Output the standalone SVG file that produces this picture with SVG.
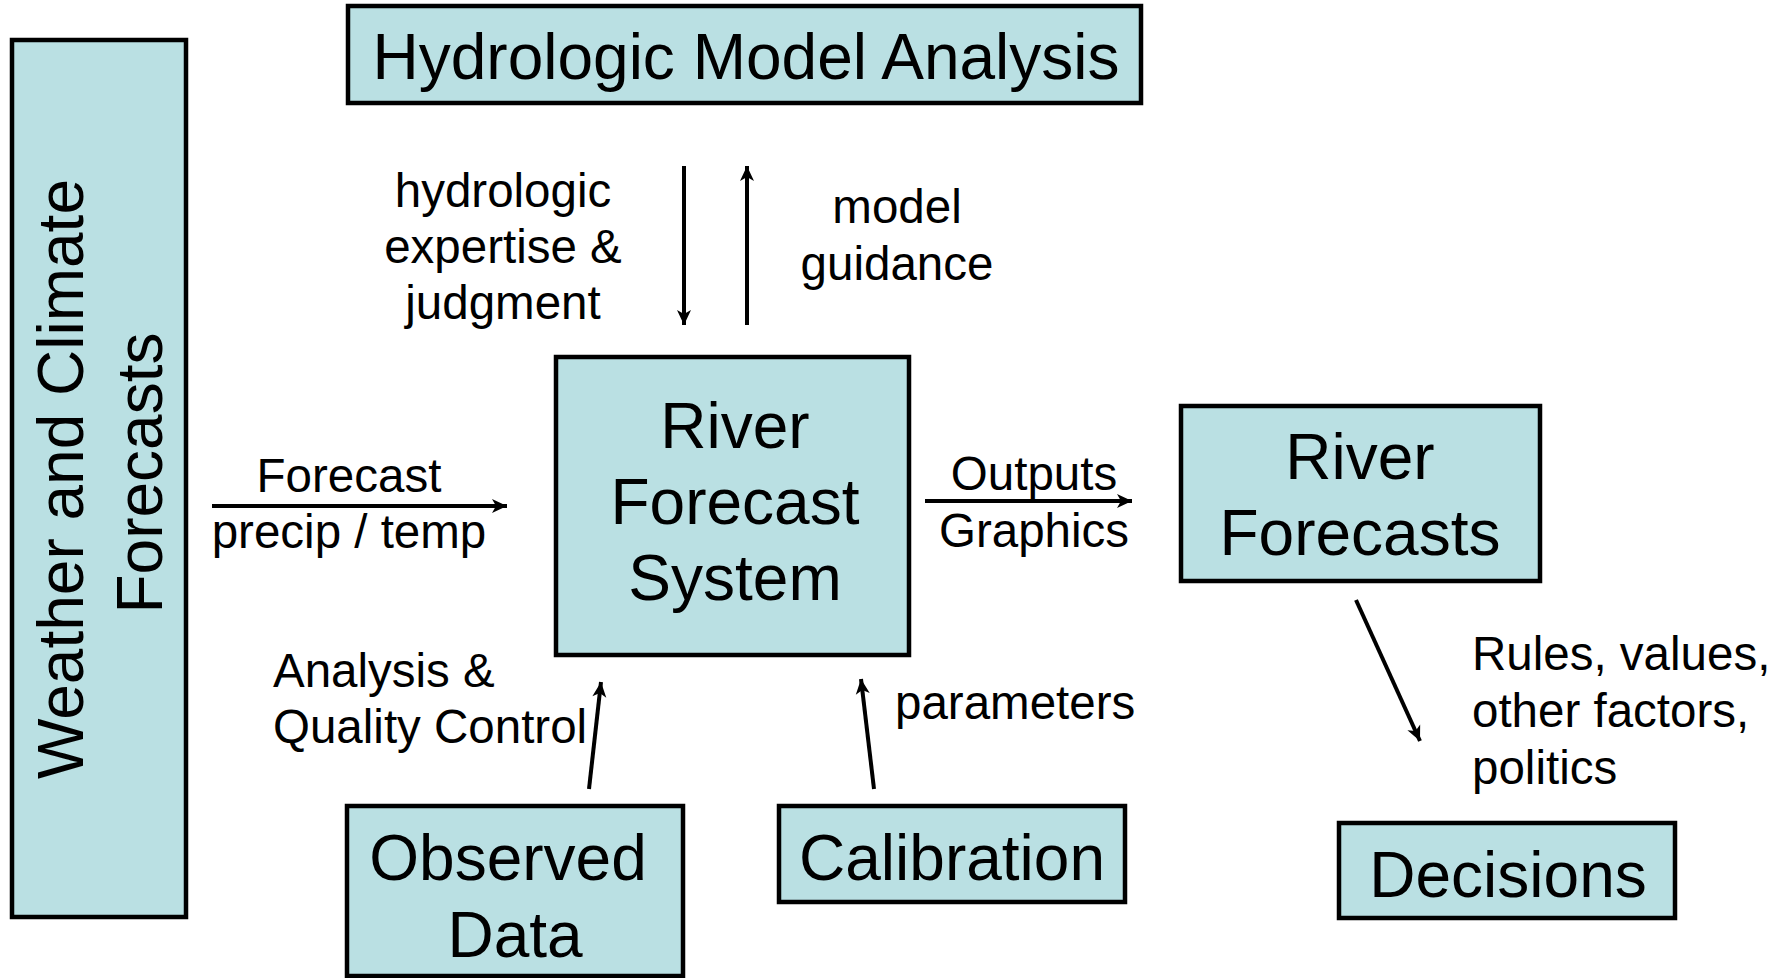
<svg xmlns="http://www.w3.org/2000/svg" width="1775" height="978" viewBox="0 0 1775 978">
<style>
.box{fill:#BAE0E3;stroke:#000;stroke-width:4.5}
.big{font-family:"Liberation Sans",Arial,sans-serif;font-size:64px;fill:#000;text-anchor:middle}
.lbl{font-family:"Liberation Sans",Arial,sans-serif;font-size:47.5px;fill:#000}
.mid{text-anchor:middle}
.con{stroke:#000;stroke-width:4;fill:none;marker-end:url(#ah)}
</style>
<defs>
<marker id="ah" viewBox="0 0 20 20" refX="18" refY="10" markerWidth="20" markerHeight="20" markerUnits="userSpaceOnUse" orient="auto">
<path d="M3,3 L18,10 L3,17 L7,10 z" fill="#000"/>
</marker>
</defs>
<rect width="1775" height="978" fill="#fff"/>
<g id="weather">
<rect class="box" x="12" y="40" width="174" height="877"/>
<text class="big" transform="translate(83,479) rotate(-90)" x="0" y="0">Weather and Climate</text>
<text class="big" transform="translate(162,473) rotate(-90)" x="0" y="0">Forecasts</text>
</g>
<g id="hydro">
<rect class="box" x="348" y="6" width="793" height="97"/>
<text class="big" x="746" y="79">Hydrologic Model Analysis</text>
</g>
<g id="rfs">
<rect class="box" x="556" y="357" width="353" height="298"/>
<text class="big" x="735" y="448">River</text>
<text class="big" x="735" y="524">Forecast</text>
<text class="big" x="735" y="600">System</text>
</g>
<g id="riverforecasts">
<rect class="box" x="1181" y="406" width="359" height="175"/>
<text class="big" x="1360" y="479">River</text>
<text class="big" x="1360" y="555">Forecasts</text>
</g>
<g id="decisions">
<rect class="box" x="1339" y="823" width="336" height="95"/>
<text class="big" x="1508" y="897">Decisions</text>
</g>
<g id="observed">
<rect class="box" x="347" y="806" width="336" height="170"/>
<text class="big" x="508" y="880">Observed</text>
<text class="big" x="515" y="957">Data</text>
</g>
<g id="calibration">
<rect class="box" x="779" y="806" width="346" height="96"/>
<text class="big" x="952" y="880">Calibration</text>
</g>
<g id="connectors">
<line class="con" x1="684" y1="166" x2="684" y2="325"/>
<line class="con" x1="747" y1="325" x2="747" y2="166"/>
<line class="con" x1="212" y1="506" x2="507" y2="506"/>
<line class="con" x1="925" y1="501" x2="1132" y2="501"/>
<line class="con" x1="589" y1="789" x2="601" y2="682"/>
<line class="con" x1="874" y1="789" x2="861" y2="679"/>
<line class="con" x1="1356" y1="600" x2="1420" y2="741"/>
</g>
<g id="labels">
<text class="lbl mid" x="503" y="207">hydrologic</text>
<text class="lbl mid" x="503" y="263">expertise &amp;</text>
<text class="lbl mid" x="503" y="319">judgment</text>
<text class="lbl mid" x="897" y="223">model</text>
<text class="lbl mid" x="897" y="280">guidance</text>
<text class="lbl mid" x="349" y="492">Forecast</text>
<text class="lbl mid" x="349" y="548">precip / temp</text>
<text class="lbl mid" x="1034" y="490">Outputs</text>
<text class="lbl mid" x="1034" y="547">Graphics</text>
<text class="lbl" x="273" y="687">Analysis &amp;</text>
<text class="lbl" x="273" y="743">Quality Control</text>
<text class="lbl" x="895" y="719">parameters</text>
<text class="lbl" x="1472" y="670">Rules, values,</text>
<text class="lbl" x="1472" y="727">other factors,</text>
<text class="lbl" x="1472" y="784">politics</text>
</g>
</svg>
